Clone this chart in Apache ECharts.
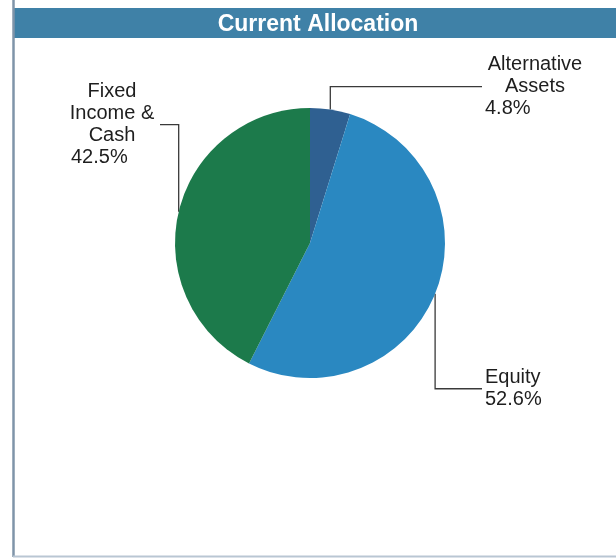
<!DOCTYPE html>
<html>
<head>
<meta charset="utf-8">
<style>
  html, body { margin: 0; padding: 0; background: #ffffff; }
  #chart { width: 616px; height: 559px; }
</style>
<script src="https://cdn.jsdelivr.net/npm/echarts@6/dist/echarts.min.js"></script>
</head>
<body>
<div id="chart"></div>
<script>
// Allocation shares (percent), listed clockwise from 12 o'clock
const categories = ['Alternative\nAssets', 'Equity', 'Fixed\nIncome &\nCash'];
const shares = [4.8, 52.6, 42.5];
const colors = ['#2f6091', '#2a88c1', '#1c7a4b'];

// Callout placement for each slice: side of the text, its anchor, text block width
const callouts = [
  { side: 'right', dy: -23, x: 485, w: 100, nameAlign: 'center', pctAlign: 'left', pad: 0 },
  { side: 'right', dy: 95, x: 485, w: 64, nameAlign: 'left', pctAlign: 'left', pad: 0 },
  { side: 'left', dy: -87, x: 159, w: 88, nameAlign: 'center', pctAlign: 'left', pad: 6 }
];

const textStyle = { fontFamily: 'Liberation Sans, Arial, sans-serif', fontSize: 20, color: '#1e1e1e', lineHeight: 22 };

const data = categories.map((name, i) => ({
  name: name,
  value: shares[i],
  itemStyle: { color: colors[i] },
  label: {
    rich: {
      c: Object.assign({}, textStyle, { width: callouts[i].w, align: callouts[i].nameAlign }),
      p: Object.assign({}, textStyle, { width: callouts[i].w, align: callouts[i].pctAlign, padding: [0, 0, 0, callouts[i].pad] })
    }
  }
}));

const chart = echarts.init(document.getElementById('chart'), null, { renderer: 'canvas' });

chart.setOption({
  animation: false,
  title: {
    text: 'Current Allocation',
    left: 313,
    top: 5,
    textAlign: 'center',
    textStyle: { color: '#ffffff', fontFamily: 'Liberation Sans, Arial, sans-serif', fontWeight: 'bold', fontSize: 23, lineHeight: 30, height: 30 }
  },
  graphic: [
    // header band
    { type: 'rect', z: -1, shape: { x: 14, y: 8, width: 602, height: 30 }, style: { fill: '#3f81a7' } },
    // panel frame: left and bottom rules
    { type: 'line', shape: { x1: 13.5, y1: 0, x2: 13.5, y2: 557 }, style: { stroke: '#7f94a9', lineWidth: 2.5 } },
    { type: 'line', shape: { x1: 13, y1: 556.5, x2: 616, y2: 556.5 }, style: { stroke: '#b9c6d3', lineWidth: 2 } }
  ],
  series: [{
    type: 'pie',
    center: [310, 243],
    radius: 135,
    startAngle: 90,
    clockwise: true,
    avoidLabelOverlap: false,
    data: data,
    itemStyle: { borderWidth: 0 },
    emphasis: { disabled: true },
    label: {
      show: true,
      position: 'outside',
      formatter: (p) => p.name.split('\n').map(s => '{c|' + s + '}').join('\n') + '\n{p|' + p.value.toFixed(1) + '%}'
    },
    labelLine: { show: true, smooth: false, length: 10, length2: 10, lineStyle: { color: '#3a3a3a', width: 1.3 } },
    labelLayout: function (params) {
      const i = params.dataIndex;
      const c = callouts[i];
      const start = params.labelLinePoints ? params.labelLinePoints[0] : null;
      if (!start) return {};
      const elbowY = start[1] + c.dy;
      const endX = c.side === 'right' ? c.x - 3 : c.x + 1;
      return {
        x: c.x,
        y: elbowY,
        align: c.side === 'right' ? 'left' : 'right',
        verticalAlign: 'middle',
        labelLinePoints: [start, [start[0], elbowY], [endX, elbowY]]
      };
    }
  }]
});
</script>
</body>
</html>
